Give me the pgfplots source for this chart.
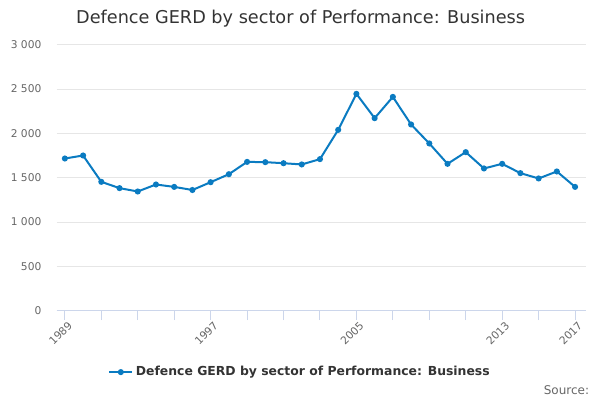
\documentclass[border=0pt]{standalone}
\usepackage{pgfplots}
\pgfplotsset{compat=1.18}
\usepackage{fontspec}
\setmainfont{DejaVu Sans}
\definecolor{lineblue}{HTML}{0A7BC1}
\definecolor{ticklab}{HTML}{666666}
\definecolor{titlec}{HTML}{333333}
\definecolor{gridc}{HTML}{E6E6E6}
\definecolor{axisc}{HTML}{CCD6EB}
\begin{document}
\begin{tikzpicture}[x=1pt,y=1pt]
\path[use as bounding box] (0,0) rectangle (450,300);
\begin{axis}[
  at={(42.5pt,67pt)}, anchor=south west,
  scale only axis, width=397pt, height=199.5pt,
  xmin=1988.55, xmax=2017.6, ymin=0, ymax=3000,
  xtick={1989,1997,2005,2013,2017},
  xticklabels={1989,1997,2005,2013,2017},
  minor xtick={1991,1993,1995,1999,2001,2003,2007,2009,2011,2015},
  ytick={0,500,...,3000},
  tick align=outside,
  major tick length=7pt, minor tick length=7pt,
  axis x line*=bottom,
  axis y line*=left,
  y axis line style={draw=none},
  x axis line style={draw=axisc, line width=0.75pt},
  xtick style={draw=axisc, line width=0.75pt},
  minor x tick style={draw=axisc, line width=0.75pt},
  ytick style={draw=none},
  ymajorgrids, major grid style={draw=gridc, line width=0.75pt},
  /pgf/number format/.cd, 1000 sep={\ }, assume math mode=true, /pgfplots/.cd,
  scaled y ticks=false,
  ticklabel style={font=\fontsize{8}{9}\selectfont, text=ticklab},
  xticklabel style={rotate=45, anchor=north east, inner sep=0pt, xshift=1pt, yshift=-1.5pt},
  yticklabel style={anchor=east, inner sep=0pt, xshift=-4.3pt},
  legend style={at={(0.4605,-0.231)}, anchor=center, draw=none, fill=none,
    font=\fontsize{9.3}{11}\selectfont\bfseries, text=titlec,
    legend cell align=left},
  legend image post style={mark indices={2}},
]
\addplot[color=lineblue, line width=1.5pt, mark=*, mark size=1.5pt] coordinates {
(1989,1716) (1990,1750) (1991,1453) (1992,1382) (1993,1344) (1994,1423)
(1995,1396) (1996,1361) (1997,1449) (1998,1539) (1999,1678) (2000,1675)
(2001,1663) (2002,1649) (2003,1709) (2004,2039) (2005,2445) (2006,2171)
(2007,2411) (2008,2100) (2009,1886) (2010,1656) (2011,1788) (2012,1604)
(2013,1656) (2014,1551) (2015,1491) (2016,1570) (2017,1396)
};
\addlegendentry{Defence GERD by sector of Performance: Business}
\end{axis}
\node[anchor=center, text=titlec, font=\fontsize{13.25}{15}\selectfont] at (225.5,285.8) {Defence GERD by sector of Performance: Business};
\node[anchor=east, text=ticklab, font=\fontsize{9}{11}\selectfont, inner sep=0pt] at (442,7.5) {Source:};
\end{tikzpicture}
\end{document}
